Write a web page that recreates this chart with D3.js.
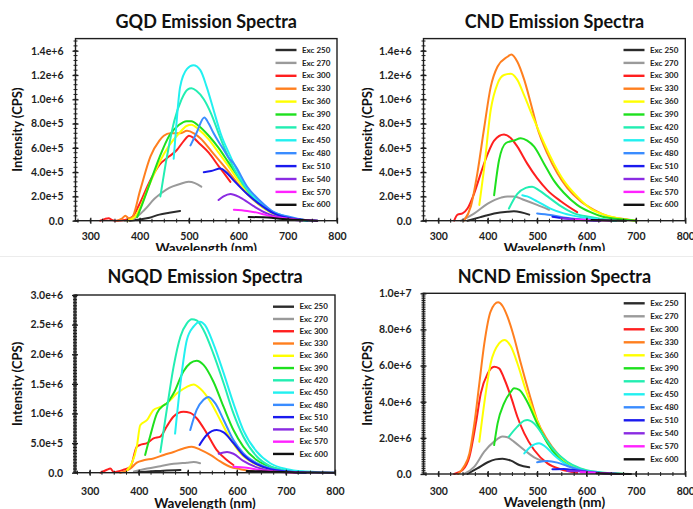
<!DOCTYPE html>
<html>
<head>
<meta charset="utf-8">
<script src="https://cdn.jsdelivr.net/npm/d3@7"></script>
<style>
  html, body { margin: 0; padding: 0; background: #fff; }
  svg { display: block; font-family: Lato, "Open Sans", sans-serif; }
</style>
</head>
<body>
<svg id="chart" width="693" height="509"></svg>
<script>
// Excitation wavelengths (nm) shared by all four samples, and their line colours
const excitations = [250, 270, 300, 330, 360, 390, 420, 450, 480, 510, 540, 570, 600];
const seriesColors = ["#2b2b2b", "#9a9a9a", "#ff1f1f", "#ff7f1f", "#ffff00", "#1ee01e",
                      "#22eeb2", "#22f0f0", "#3a8cff", "#1a1aee", "#8a2be2", "#ff22ff", "#111111"];

// Emission spectra: one list per excitation, points are [wavelength nm, intensity in 1e6 CPS]
const gqdSpectra = [
  [[380,0],[400,0.01],[420,0.025],[440,0.05],[460,0.065],[482,0.08]],
  [[370,0],[390,0.02],[410,0.09],[430,0.18],[445,0.23],[460,0.27],[480,0.3],[499,0.32],[512,0.31],[525,0.28]],
  [[320,0],[330,0.015],[337,0.02],[345,0.005],[352,0],[370,0.005],[385,0.03],[400,0.14],[420,0.32],[440,0.46],[460,0.53],[475,0.58],[490,0.66],[500,0.7],[510,0.68],[520,0.64],[540,0.56],[560,0.45],[575,0.37],[584,0.32]],
  [[355,0],[365,0.02],[371,0.04],[378,0.02],[385,0.03],[401,0.25],[422,0.53],[440,0.66],[449,0.7],[462,0.72],[482,0.72],[496,0.74],[510,0.72],[523,0.68],[550,0.55],[577,0.42],[604,0.28],[631,0.17],[658,0.09],[692,0.03],[726,0.01],[750,0]],
  [[375,0],[390,0.03],[400,0.1],[420,0.3],[440,0.48],[460,0.62],[480,0.72],[495,0.78],[505,0.79],[520,0.75],[540,0.67],[560,0.56],[580,0.45],[600,0.33],[620,0.22],[640,0.14],[660,0.08],[680,0.04],[700,0.02],[730,0]],
  [[395,0.03],[400,0.08],[420,0.3],[440,0.52],[460,0.7],[480,0.79],[495,0.82],[505,0.82],[520,0.78],[540,0.7],[560,0.6],[580,0.48],[600,0.36],[620,0.25],[640,0.16],[660,0.09],[680,0.05],[700,0.02],[740,0]],
  [[442,0.2],[455,0.52],[470,0.82],[485,1.0],[497,1.08],[505,1.09],[515,1.07],[530,1.0],[545,0.88],[560,0.72],[577,0.55],[600,0.36],[620,0.24],[640,0.15],[660,0.09],[680,0.05],[700,0.02],[740,0]],
  [[469,0.51],[475,0.82],[482,1.1],[496,1.25],[509,1.28],[523,1.24],[536,1.1],[550,0.91],[564,0.72],[584,0.53],[604,0.36],[631,0.2],[658,0.1],[692,0.04],[726,0.01],[760,0]],
  [[503,0.62],[515,0.72],[531,0.85],[540,0.8],[550,0.72],[560,0.65],[568,0.6],[580,0.52],[591,0.47],[618,0.28],[645,0.16],[672,0.07],[705,0.03],[740,0]],
  [[530,0.4],[545,0.41],[564,0.43],[575,0.4],[591,0.33],[618,0.22],[645,0.13],[672,0.06],[705,0.02],[760,0]],
  [[560,0.17],[570,0.2],[584,0.22],[604,0.19],[631,0.12],[658,0.06],[692,0.02],[730,0]],
  [[591,0.09],[618,0.08],[645,0.06],[672,0.03],[705,0.015],[760,0]],
  [[621,0.03],[650,0.028],[690,0.015],[730,0.005],[760,0]]
];

const cndSpectra = [
  [[359,0],[386,0.03],[413,0.06],[440,0.074],[453,0.077],[467,0.07],[484,0.05]],
  [[346,0],[373,0.06],[400,0.14],[427,0.19],[440,0.2],[453,0.2],[474,0.17],[500,0.13],[524,0.09]],
  [[332,0],[339,0.05],[349,0.06],[359,0.1],[373,0.23],[386,0.39],[400,0.55],[413,0.66],[433,0.71],[447,0.68],[460,0.61],[480,0.47],[500,0.35],[521,0.25],[548,0.16],[581,0.07]],
  [[352,0],[366,0.12],[379,0.39],[393,0.77],[406,1.1],[420,1.27],[440,1.35],[448,1.37],[460,1.31],[474,1.16],[487,0.97],[500,0.77],[521,0.55],[541,0.39],[561,0.27],[588,0.16],[615,0.09],[642,0.04],[675,0.014],[702,0]],
  [[383,0.13],[393,0.44],[406,0.91],[420,1.13],[433,1.2],[447,1.21],[460,1.16],[474,1.03],[494,0.83],[514,0.64],[534,0.47],[554,0.33],[581,0.2],[608,0.1],[635,0.05],[669,0.016],[700,0]],
  [[413,0.21],[423,0.5],[437,0.64],[453,0.66],[467,0.68],[480,0.66],[494,0.61],[514,0.47],[534,0.33],[554,0.23],[581,0.13],[608,0.07],[635,0.03],[675,0.01],[700,0]],
  [[443,0.1],[460,0.22],[477,0.27],[490,0.28],[504,0.25],[521,0.2],[548,0.12],[575,0.06],[608,0.03],[655,0]],
  [[470,0.21],[480,0.2],[500,0.16],[527,0.1],[554,0.06],[588,0.03],[628,0.01],[660,0]],
  [[500,0.06],[527,0.047],[554,0.027],[588,0.01],[628,0]],
  [[531,0.033],[554,0.02],[588,0.008],[628,0]],
  [[548,0.02],[588,0.006],[628,0]],
  [[575,0.01],[615,0.005],[650,0]],
  [[610,0.005],[650,0.002],[680,0]]
];

const ngqdSpectra = [
  [[390,0.01],[420,0.02],[450,0.035],[485,0.045]],
  [[390,0.02],[417,0.07],[444,0.11],[471,0.15],[498,0.17],[512,0.18],[525,0.16]],
  [[322,0],[335,0.05],[342,0.07],[349,0.01],[369,0.05],[383,0.1],[396,0.44],[403,0.47],[417,0.5],[430,0.58],[444,0.61],[457,0.78],[471,0.95],[491,1.03],[505,1.01],[518,0.92],[539,0.66],[559,0.38],[580,0.21],[593,0.13]],
  [[362,0],[383,0.07],[396,0.17],[410,0.21],[430,0.24],[451,0.3],[471,0.35],[491,0.41],[508,0.44],[525,0.39],[546,0.3],[566,0.19],[586,0.1],[607,0.06],[634,0.02]],
  [[376,0.04],[386,0.16],[396,0.44],[403,0.8],[417,0.89],[430,1.06],[444,1.11],[457,1.17],[478,1.34],[498,1.45],[512,1.49],[525,1.42],[546,1.2],[566,0.89],[586,0.58],[607,0.33],[634,0.16],[661,0.07],[695,0.02],[725,0]],
  [[413,0.3],[423,0.61],[437,1.0],[451,1.14],[457,1.17],[471,1.34],[491,1.71],[505,1.85],[518,1.89],[532,1.82],[552,1.54],[573,1.11],[593,0.72],[613,0.44],[641,0.21],[668,0.1],[702,0.03],[740,0]],
  [[444,0.35],[457,1.06],[471,1.79],[485,2.3],[498,2.52],[508,2.59],[518,2.57],[532,2.41],[552,2.01],[573,1.51],[593,1.0],[613,0.61],[641,0.27],[668,0.11],[702,0.03],[740,0]],
  [[474,0.66],[485,1.51],[498,2.24],[512,2.47],[525,2.55],[535,2.49],[552,2.18],[573,1.68],[593,1.17],[613,0.72],[641,0.35],[668,0.16],[702,0.06],[742,0.02],[800,0]],
  [[505,0.72],[518,1.06],[532,1.23],[542,1.28],[556,1.17],[573,0.89],[593,0.55],[613,0.33],[641,0.16],[668,0.07],[702,0.02],[740,0]],
  [[524,0.47],[539,0.64],[559,0.72],[573,0.68],[593,0.5],[613,0.3],[641,0.14],[668,0.06],[702,0.02],[740,0]],
  [[563,0.32],[580,0.35],[593,0.32],[613,0.2],[641,0.09],[668,0.035],[702,0.01],[800,0]],
  [[593,0.1],[620,0.085],[647,0.045],[681,0.017],[720,0]],
  [[620,0.03],[660,0.02],[720,0.005],[800,0]]
];

const ncndSpectra = [
  [[359,0],[379,0.31],[400,0.65],[416,0.81],[430,0.85],[447,0.74],[464,0.5],[484,0.37]],
  [[352,0],[373,0.41],[393,1.24],[413,1.79],[430,2.07],[440,2.03],[453,1.79],[474,1.33],[494,0.92],[511,0.72]],
  [[332,0],[349,0.22],[363,0.96],[376,2.8],[386,4.46],[400,5.57],[413,5.94],[423,5.85],[433,5.3],[447,4.28],[460,3.17],[474,2.25],[494,1.33],[521,0.59],[548,0.26],[581,0.07]],
  [[340,0],[352,0.41],[363,1.14],[373,2.8],[383,5.0],[393,7.2],[406,9.0],[421,9.5],[430,9.3],[440,8.71],[453,7.6],[467,6.13],[484,4.46],[500,2.99],[521,1.88],[541,1.14],[561,0.63],[588,0.26],[622,0.07],[660,0]],
  [[383,1.79],[393,3.91],[406,6.13],[423,7.23],[434,7.42],[447,7.05],[460,6.13],[477,4.65],[494,3.36],[514,2.07],[534,1.24],[561,0.59],[588,0.28],[622,0.09],[660,0]],
  [[413,1.6],[420,2.8],[433,3.91],[447,4.56],[453,4.74],[464,4.65],[480,4.0],[500,2.8],[521,1.7],[541,0.96],[568,0.41],[602,0.13],[642,0.04],[680,0]],
  [[443,2.07],[460,2.62],[474,2.95],[480,2.99],[494,2.8],[514,2.07],[534,1.33],[561,0.68],[588,0.31],[622,0.11],[670,0]],
  [[474,1.14],[487,1.51],[504,1.7],[517,1.51],[534,1.05],[561,0.5],[588,0.22],[628,0.07],[680,0]],
  [[500,0.65],[521,0.72],[541,0.63],[561,0.44],[588,0.22],[628,0.06],[680,0]],
  [[531,0.26],[554,0.28],[575,0.22],[602,0.11],[642,0.03],[680,0]],
  [[561,0.17],[588,0.15],[615,0.07],[650,0.02],[680,0]],
  [[588,0.09],[618,0.07],[650,0.02],[680,0]],
  [[620,0.04],[650,0.02],[690,0]]
];

// Axis tick values
const wavelengthTicks = [300, 400, 500, 600, 700, 800];
const gqdTicks = [0, 2e5, 4e5, 6e5, 8e5, 1e6, 1.2e6, 1.4e6];
const cndTicks = [0, 2e5, 4e5, 6e5, 8e5, 1e6, 1.2e6, 1.4e6];
const ngqdTicks = [0, 5e5, 1e6, 1.5e6, 2e6, 2.5e6, 3e6];
const ncndTicks = [0, 2e6, 4e6, 6e6, 8e6, 1e7];
const panelTitles = ["GQD Emission Spectra", "CND Emission Spectra", "NGQD Emission Spectra", "NCND Emission Spectra"];

// Panel layout (pixels)
const panels = [
  { title: panelTitles[0], spectra: gqdSpectra, yTicks: gqdTicks, yMax: 1.5e6, minor: 4e4,
    cell: [0, 0, 347, 251], left: 75.5, right: 337, top: 38.6, bottom: 220.7,
    titleY: 28.3, xLabelY: 252.7, yLabelX: 17.7, tickDy: 19.8,
    legendX: 275.5, legendY: 50, legendStep: 12.9 },
  { title: panelTitles[1], spectra: cndSpectra, yTicks: cndTicks, yMax: 1.5e6, minor: 4e4,
    cell: [347, 0, 346, 251], left: 423.5, right: 685.3, top: 38.6, bottom: 220.7,
    titleY: 28.3, xLabelY: 252.7, yLabelX: 367, tickDy: 19.8,
    legendX: 623.5, legendY: 50, legendStep: 12.9 },
  { title: panelTitles[2], spectra: ngqdSpectra, yTicks: ngqdTicks, yMax: 3e6, minor: 2.5e4,
    cell: [0, 251, 347, 258], left: 75, right: 335, top: 295, bottom: 472.7,
    titleY: 282.7, xLabelY: 507.7, yLabelX: 17.7, tickDy: 22.5,
    legendX: 273, legendY: 306.7, legendStep: 12.27 },
  { title: panelTitles[3], spectra: ncndSpectra, yTicks: ncndTicks, yMax: 1e7, minor: 1e5,
    cell: [347, 251, 346, 258], left: 423.5, right: 685.3, top: 293.3, bottom: 474,
    titleY: 282.7, xLabelY: 506.5, yLabelX: 367, tickDy: 20.5,
    legendX: 623.7, legendY: 303.3, legendStep: 13 }
];

const svg = d3.select("#chart");
svg.append("rect").attr("width", 693).attr("height", 509).attr("fill", "#fff");

const fmtTick = v => v === 0 ? "0.0" : d3.format(".1e")(v);
const ink = "#1e1e1e";

panels.forEach((p, idx) => {
  const [cx, cy, cw, ch] = p.cell;
  const clipId = "cell" + idx;
  svg.append("clipPath").attr("id", clipId)
    .append("rect").attr("x", cx).attr("y", cy).attr("width", cw).attr("height", ch);
  const g = svg.append("g").attr("clip-path", `url(#${clipId})`);
  g.append("rect").attr("x", cx).attr("y", cy).attr("width", cw).attr("height", ch).attr("fill", "#fff");

  const x = d3.scaleLinear().domain([270, 800]).range([p.left, p.right]);
  const y = d3.scaleLinear().domain([0, p.yMax]).range([p.bottom, p.top]);

  // Spectra
  const line = d3.line()
    .x(d => x(d[0]))
    .y(d => y(d[1] * 1e6))
    .curve(d3.curveMonotoneX);
  g.append("g").selectAll("path")
    .data(p.spectra)
    .join("path")
    .attr("d", line)
    .attr("fill", "none")
    .attr("stroke", (d, i) => seriesColors[i])
    .attr("stroke-width", 2)
    .attr("stroke-linejoin", "round")
    .attr("stroke-linecap", "round");

  // Frame
  g.append("rect")
    .attr("x", p.left).attr("y", p.top)
    .attr("width", p.right - p.left).attr("height", p.bottom - p.top)
    .attr("fill", "none").attr("stroke", ink).attr("stroke-width", 1.4);

  // Y axis: minor and major ticks crossing the axis line
  const yMinor = d3.range(0, p.yMax + 1, p.minor);
  g.append("g").selectAll("line").data(yMinor).join("line")
    .attr("x1", p.left - 2).attr("x2", p.left + 2)
    .attr("y1", d => y(d)).attr("y2", d => y(d))
    .attr("stroke", ink).attr("stroke-width", 1);
  const yAxis = d3.axisLeft(y).tickValues(p.yTicks).tickFormat(fmtTick).tickSizeInner(3).tickSizeOuter(0).tickPadding(9);
  const ya = g.append("g").attr("transform", `translate(${p.left},0)`).call(yAxis);
  ya.select(".domain").remove();
  ya.selectAll(".tick line").attr("x2", 3).attr("x1", -3).attr("stroke", ink).attr("stroke-width", 1.3);
  ya.selectAll(".tick text").attr("font-size", 10.5).attr("font-weight", 700).attr("fill", ink)
    .attr("font-family", "Lato, sans-serif");

  // X axis
  const xMinor = d3.range(275, 801, 25);
  g.append("g").selectAll("line").data(xMinor).join("line")
    .attr("x1", d => x(d)).attr("x2", d => x(d))
    .attr("y1", p.bottom - 2).attr("y2", p.bottom + 2)
    .attr("stroke", ink).attr("stroke-width", 1);
  const xAxis = d3.axisBottom(x).tickValues(wavelengthTicks).tickFormat(d3.format("d")).tickSizeInner(3).tickSizeOuter(0);
  const xa = g.append("g").attr("transform", `translate(0,${p.bottom})`).call(xAxis);
  xa.select(".domain").remove();
  xa.selectAll(".tick line").attr("y1", -3).attr("y2", 3).attr("stroke", ink).attr("stroke-width", 1.3);
  xa.selectAll(".tick text").attr("font-size", 10.5).attr("font-weight", 700).attr("fill", ink)
    .attr("font-family", "Lato, sans-serif")
    .attr("y", p.tickDy).attr("dy", 0);

  // Title and axis labels
  g.append("text")
    .attr("x", (p.left + p.right) / 2).attr("y", p.titleY)
    .attr("text-anchor", "middle")
    .attr("font-size", 18).attr("font-weight", 700).attr("fill", "#111")
    .text(p.title);
  g.append("text")
    .attr("x", (p.left + p.right) / 2).attr("y", p.xLabelY)
    .attr("text-anchor", "middle")
    .attr("font-size", 13.5).attr("font-weight", 700).attr("fill", "#111")
    .text("Wavelength (nm)");
  g.append("text")
    .attr("transform", `translate(${p.yLabelX},${(p.top + p.bottom) / 2}) rotate(-90)`)
    .attr("text-anchor", "middle").attr("dy", "0.35em")
    .attr("font-size", 13).attr("font-weight", 700).attr("fill", "#111")
    .text("Intensity (CPS)");

  // Legend
  const lg = g.append("g");
  const rows = lg.selectAll("g").data(excitations).join("g")
    .attr("transform", (d, i) => `translate(${p.legendX},${p.legendY + i * p.legendStep})`);
  rows.append("line")
    .attr("x1", 0).attr("x2", 21).attr("y1", 0).attr("y2", 0)
    .attr("stroke", (d, i) => seriesColors[i]).attr("stroke-width", 2.4);
  rows.append("text")
    .attr("x", 26.5).attr("y", 0).attr("dy", "0.33em")
    .attr("font-size", 8).attr("font-weight", 700).attr("fill", "#222")
    .text(d => "Exc " + d);
});

// Thin divider between the upper and lower rows
svg.append("line").attr("x1", 0).attr("x2", 693).attr("y1", 256.5).attr("y2", 256.5)
  .attr("stroke", "#ececec").attr("stroke-width", 1);
</script>
</body>
</html>
